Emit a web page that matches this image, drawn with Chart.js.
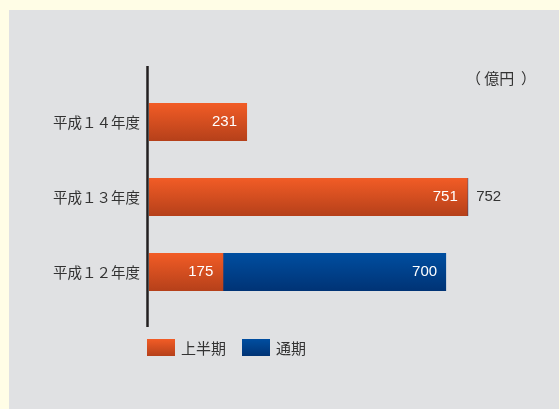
<!DOCTYPE html>
<html lang="ja">
<head>
<meta charset="UTF-8" />
<title>上半期・通期</title>
<script src="https://cdn.jsdelivr.net/npm/chart.js"></script>
<style>
  body { margin: 0; background: #fffde6; }
  #panel { position: absolute; left: 9px; top: 10px; width: 550px; height: 399px; background: #e0e1e3; }
</style>
</head>
<body>
<div id="panel"><canvas id="grafico" width="550" height="399"></canvas></div>
<script>
  // datos (億円)
  const nendo = ["平成１４年度", "平成１３年度", "平成１２年度"];
  const kamihanki = [231, 751, 175];
  const tsuki = [null, 752, 700];
  const tani = "（ 億円  ）";

  const BAR = 0.507;
  const fuenteJP = '"Noto Sans CJK JP", "Noto Sans", sans-serif';
  const fuenteNum = '"Liberation Sans", Arial, sans-serif';

  // degradado vertical por barra, calculado desde la escala y
  function degradado(arriba, abajo) {
    return function (context) {
      const chart = context.chart;
      const y = chart.scales.y;
      if (!chart.chartArea || !y || context.dataIndex === undefined) return arriba;
      const paso = Math.abs(y.getPixelForValue(1) - y.getPixelForValue(0));
      const centro = y.getPixelForValue(context.dataIndex);
      const medio = (paso * BAR) / 2;
      const g = chart.ctx.createLinearGradient(0, centro - medio, 0, centro + medio);
      g.addColorStop(0, arriba);
      g.addColorStop(1, abajo);
      return g;
    };
  }

  const colores = [
    ["#f25c26", "#b5401a"],
    ["#004ea0", "#003375"],
  ];

  const extras = {
    id: "extras",
    afterDatasetsDraw(chart) {
      const ctx = chart.ctx;
      const area = chart.chartArea;
      ctx.save();

      // eje vertical
      ctx.strokeStyle = "#231f20";
      ctx.lineWidth = 2.5;
      ctx.beginPath();
      ctx.moveTo(area.left - 1.5, area.top - 18.5);
      ctx.lineTo(area.left - 1.5, area.bottom + 17.5);
      ctx.stroke();

      // valores
      const m0 = chart.getDatasetMeta(0);
      const m1 = chart.getDatasetMeta(1);
      ctx.font = "15px " + fuenteNum;
      ctx.textBaseline = "middle";
      m0.data.forEach((bar, i) => {
        if (kamihanki[i] == null) return;
        ctx.fillStyle = "#ffffff";
        ctx.textAlign = "right";
        ctx.fillText(kamihanki[i], bar.x - 10, bar.y);
      });
      m1.data.forEach((bar, i) => {
        if (tsuki[i] == null) return;
        const inicio = m0.data[i].x;
        if (bar.x - inicio > 40) {
          ctx.fillStyle = "#ffffff";
          ctx.textAlign = "right";
          ctx.fillText(tsuki[i], bar.x - 9, bar.y);
        } else {
          ctx.fillStyle = "#333333";
          ctx.textAlign = "left";
          ctx.fillText(tsuki[i], bar.x + 8, bar.y);
        }
      });

      // unidad
      ctx.font = "15px " + fuenteJP;
      ctx.fillStyle = "#333333";
      ctx.textAlign = "right";
      ctx.fillText(tani, area.right + 5, area.top - 6.5);

      // leyenda
      let x = area.left - 2;
      const top = area.bottom + 29.5;
      ctx.textAlign = "left";
      chart.data.datasets.forEach((ds, i) => {
        const g = ctx.createLinearGradient(0, top, 0, top + 17);
        g.addColorStop(0, colores[i][0]);
        g.addColorStop(1, colores[i][1]);
        ctx.fillStyle = g;
        ctx.fillRect(x, top, 28, 17);
        ctx.fillStyle = "#333333";
        ctx.fillText(ds.label, x + 34, top + 9);
        x += 34 + ctx.measureText(ds.label).width + 16;
      });

      ctx.restore();
    },
  };

  new Chart(document.getElementById("grafico"), {
    type: "bar",
    data: {
      labels: nendo,
      datasets: [
        {
          label: "上半期",
          data: kamihanki,
          backgroundColor: degradado(colores[0][0], colores[0][1]),
          grouped: false,
          order: 0,
          barPercentage: BAR,
          categoryPercentage: 1,
        },
        {
          label: "通期",
          data: tsuki,
          backgroundColor: degradado(colores[1][0], colores[1][1]),
          grouped: false,
          order: 1,
          barPercentage: BAR,
          categoryPercentage: 1,
        },
      ],
    },
    options: {
      indexAxis: "y",
      responsive: false,
      animation: false,
      layout: { padding: { left: 0, right: 28, top: 74.5, bottom: 99.5 } },
      plugins: { legend: { display: false }, tooltip: { enabled: false } },
      scales: {
        x: { display: false, min: 0, max: 900 },
        y: {
          grid: { display: false, drawTicks: false },
          border: { display: false },
          ticks: { color: "#333333", padding: 9, font: { family: fuenteJP, size: 14.5 } },
          afterFit(scale) {
            scale.width = 140;
          },
        },
      },
    },
    plugins: [extras],
  });
</script>
</body>
</html>
